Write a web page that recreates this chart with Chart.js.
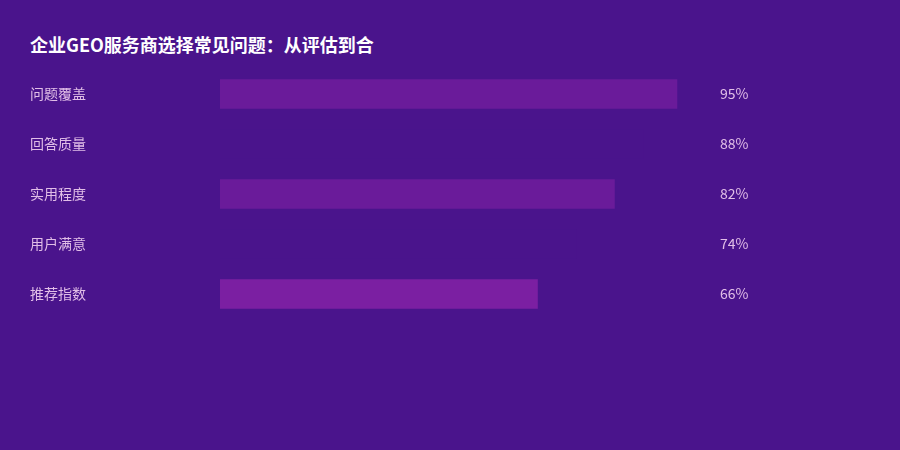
<!DOCTYPE html>
<html>
<head>
<meta charset="utf-8">
<script src="https://cdn.jsdelivr.net/npm/chart.js@4"></script>
<style>
  html, body { margin: 0; padding: 0; background: #4a148c; }
  #wrap { position: relative; width: 900px; height: 450px; }
  h1 {
    position: absolute; left: 30px; top: 31px; margin: 0;
    font: bold 18px "Noto Sans CJK SC", sans-serif; color: #ffffff; line-height: 26px;
  }
  canvas { position: absolute; left: 0; top: 0; }
</style>
</head>
<body>
<div id="wrap">
  <h1>企业GEO服务商选择常见问题：从评估到合</h1>
  <canvas id="chart" width="900" height="450"></canvas>
</div>
<script>
// --- DATA ---
const CATEGORIES = ['问题覆盖', '回答质量', '实用程度', '用户满意', '推荐指数'];
const VALUES = [95, 88, 82, 74, 66];
const BAR_COLORS = ['#6a1b9a', '#4a148c', '#6a1b9a', '#4a148c', '#7b1fa2'];

const FONT = '"Noto Sans CJK SC", sans-serif';
const LABEL_COLOR = '#e1bee7';

// valeurs en % à droite des barres
const valueLabels = {
    id: 'valueLabels',
    afterDatasetsDraw(chart) {
        const { ctx } = chart;
        const meta = chart.getDatasetMeta(0);
        ctx.save();
        ctx.fillStyle = LABEL_COLOR;
        ctx.font = '14px ' + FONT;
        ctx.textAlign = 'left';
        ctx.textBaseline = 'middle';
        meta.data.forEach((bar, i) => {
            ctx.fillText(VALUES[i] + '%', 720, bar.y);
        });
        ctx.restore();
    }
};

new Chart(document.getElementById('chart'), {
    type: 'bar',
    data: {
        labels: CATEGORIES,
        datasets: [{
            data: VALUES,
            backgroundColor: BAR_COLORS,
            borderWidth: 0,
            barThickness: 29
        }]
    },
    options: {
        indexAxis: 'y',
        responsive: false,
        animation: false,
        layout: { padding: { left: 30, right: 199, top: 69, bottom: 131 } },
        plugins: { legend: { display: false }, tooltip: { enabled: false }, title: { display: false } },
        scales: {
            x: { min: 0, max: 100, display: false },
            y: {
                grid: { display: false },
                border: { display: false },
                afterFit(scale) { scale.width = 190; },
                ticks: {
                    crossAlign: 'far',
                    padding: 0,
                    color: LABEL_COLOR,
                    font: { family: FONT, size: 14 }
                }
            }
        }
    },
    plugins: [valueLabels]
});
</script>
</body>
</html>
